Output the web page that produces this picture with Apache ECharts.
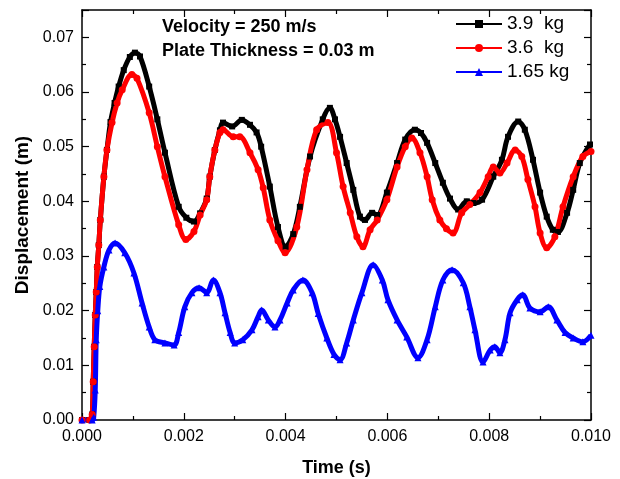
<!DOCTYPE html>
<html>
<head>
<meta charset="utf-8">
<script src="https://cdn.jsdelivr.net/npm/echarts@6/dist/echarts.min.js"></script>
<style>html,body{margin:0;padding:0;background:#fff;}#c{width:620px;height:479px;}</style>
</head>
<body>
<div id="c"></div>
<script>
// Time (s) / displacement (m) pairs
var seriesNames = ['3.9  kg', '3.6  kg', '1.65 kg'];
var xTicks = [0, 0.002, 0.004, 0.006, 0.008, 0.010];
var yTicks = [0, 0.01, 0.02, 0.03, 0.04, 0.05, 0.06, 0.07];

var mass39 = [[0,0],[0.00015,0],[0.0002,0.001],[0.00022,0.007],[0.00024,0.0134],[0.00026,0.0192],[0.00028,0.0234],[0.0003,0.028],[0.00033,0.032],[0.00036,0.0366],[0.00043,0.0445],[0.00049,0.0494],[0.00056,0.0545],[0.00064,0.058],[0.00072,0.061],[0.00082,0.064],[0.00094,0.0664],[0.00104,0.0672],[0.00114,0.0665],[0.00132,0.061],[0.00148,0.055],[0.00163,0.0489],[0.0019,0.039],[0.00205,0.037],[0.0022,0.0363],[0.00232,0.0378],[0.00245,0.0405],[0.00251,0.0445],[0.00261,0.0494],[0.00271,0.053],[0.00277,0.0544],[0.00295,0.0537],[0.00314,0.0549],[0.0033,0.054],[0.00343,0.0526],[0.00352,0.05],[0.00369,0.0427],[0.00385,0.0353],[0.004,0.0317],[0.00415,0.034],[0.00428,0.039],[0.00448,0.0482],[0.00473,0.055],[0.00487,0.0571],[0.00497,0.055],[0.00507,0.0518],[0.0052,0.047],[0.00533,0.0421],[0.00546,0.0372],[0.00556,0.0366],[0.0057,0.0379],[0.0058,0.0375],[0.00599,0.0416],[0.00619,0.047],[0.00635,0.0513],[0.00654,0.0531],[0.00666,0.0525],[0.00678,0.0507],[0.00694,0.047],[0.00709,0.0434],[0.00723,0.0405],[0.00739,0.0385],[0.00756,0.04],[0.00769,0.0397],[0.00786,0.0403],[0.00808,0.0445],[0.00825,0.0476],[0.00837,0.0518],[0.00857,0.0546],[0.0087,0.0531],[0.00886,0.0476],[0.009,0.0416],[0.00913,0.0372],[0.00925,0.0348],[0.00935,0.0344],[0.00953,0.0379],[0.00965,0.0421],[0.00978,0.047],[0.00998,0.0504]];

var mass36 = [[0,0],[0.00015,0],[0.0002,0.001],[0.00022,0.007],[0.00024,0.0134],[0.00026,0.0192],[0.00028,0.0234],[0.0003,0.028],[0.00033,0.032],[0.00036,0.0366],[0.00043,0.0445],[0.00049,0.0494],[0.00059,0.0544],[0.00069,0.058],[0.00079,0.0604],[0.00098,0.0632],[0.00108,0.0625],[0.00132,0.0562],[0.00148,0.05],[0.00163,0.0445],[0.0019,0.0357],[0.00204,0.033],[0.0022,0.0345],[0.00232,0.0375],[0.00245,0.0403],[0.00251,0.0445],[0.00261,0.0494],[0.00271,0.0526],[0.00277,0.0531],[0.00297,0.0518],[0.0031,0.0518],[0.0033,0.0489],[0.00346,0.0458],[0.00356,0.0425],[0.00369,0.0366],[0.00385,0.0328],[0.00399,0.0306],[0.00422,0.0353],[0.00442,0.0458],[0.00461,0.0531],[0.00483,0.0544],[0.005,0.0489],[0.00513,0.0427],[0.00527,0.0379],[0.0054,0.0335],[0.00552,0.0317],[0.00566,0.0348],[0.0058,0.0366],[0.00599,0.0403],[0.00619,0.0463],[0.00635,0.05],[0.00648,0.0516],[0.00664,0.0489],[0.00678,0.0445],[0.00688,0.0403],[0.00703,0.0366],[0.00716,0.035],[0.00729,0.0342],[0.00746,0.0379],[0.00762,0.0394],[0.00782,0.0416],[0.00798,0.0445],[0.00808,0.0463],[0.00821,0.0452],[0.00835,0.047],[0.00851,0.0494],[0.00864,0.0482],[0.00876,0.044],[0.0089,0.039],[0.009,0.0342],[0.00913,0.0315],[0.00929,0.0335],[0.00945,0.039],[0.00965,0.0445],[0.00984,0.0482],[0.01,0.0491]];

var mass165 = [[0,0],[0.0002,0],[0.00023,0.0005],[0.00026,0.0055],[0.00028,0.0147],[0.00031,0.02],[0.00035,0.0244],[0.00043,0.028],[0.00053,0.0311],[0.00065,0.0324],[0.00084,0.0306],[0.00102,0.0269],[0.00118,0.0214],[0.00132,0.017],[0.00143,0.0147],[0.00163,0.0141],[0.00181,0.0137],[0.0019,0.016],[0.00202,0.0207],[0.00216,0.0233],[0.0023,0.0242],[0.00245,0.0233],[0.00258,0.0256],[0.00271,0.0233],[0.00281,0.0196],[0.00291,0.016],[0.003,0.0141],[0.00316,0.0147],[0.00334,0.0165],[0.00346,0.0189],[0.00353,0.0201],[0.00366,0.0183],[0.00379,0.017],[0.00389,0.0183],[0.00403,0.0214],[0.00415,0.0238],[0.00434,0.0256],[0.00452,0.0233],[0.00464,0.0195],[0.00481,0.015],[0.00495,0.012],[0.00507,0.011],[0.0052,0.0141],[0.00533,0.0183],[0.0055,0.0233],[0.00572,0.0284],[0.0059,0.0256],[0.00601,0.022],[0.00619,0.0183],[0.00638,0.0152],[0.0066,0.0114],[0.00678,0.0147],[0.00694,0.0207],[0.00709,0.0256],[0.00727,0.0275],[0.00749,0.0251],[0.00762,0.0207],[0.00772,0.0165],[0.00788,0.0106],[0.00802,0.0128],[0.00811,0.0134],[0.00821,0.0123],[0.00831,0.0147],[0.00841,0.0196],[0.00855,0.022],[0.00866,0.0229],[0.0088,0.0205],[0.009,0.0198],[0.00916,0.0207],[0.00933,0.0183],[0.00949,0.016],[0.00965,0.015],[0.00984,0.0143],[0.01,0.0155]];

var FONT = '"Liberation Sans", Arial, sans-serif';
var chart = echarts.init(document.getElementById('c'), null, {renderer: 'canvas'});

function axisCommon(extra) {
  var base = {
    axisLine: {show: true, onZero: false, lineStyle: {color: '#000', width: 1.5}},
    axisTick: {show: true, inside: true, length: 7, lineStyle: {color: '#000', width: 1.2}},
    minorTick: {show: true, splitNumber: 2, length: 4, lineStyle: {color: '#000', width: 1.2}},
    splitLine: {show: false},
    minorSplitLine: {show: false}
  };
  for (var k in extra) base[k] = extra[k];
  return base;
}

chart.setOption({
  animation: false,
  backgroundColor: '#fff',
  title: {
    text: 'Velocity = 250 m/s\nPlate Thickness = 0.03 m',
    left: 157, top: 10,
    textStyle: {fontFamily: FONT, fontSize: 18, fontWeight: 'bold', color: '#000', lineHeight: 24}
  },
  legend: {
    orient: 'vertical', left: 450, top: 9,
    itemWidth: 46, itemHeight: 10, itemGap: 4,
    textStyle: {fontFamily: FONT, fontSize: 19, color: '#000', lineHeight: 20},
    data: seriesNames
  },
  grid: {left: 82, right: 29, top: 10, bottom: 59, containLabel: false, outerBoundsMode: 'none'},
  xAxis: [
    axisCommon({
      type: 'value', min: xTicks[0], max: xTicks[xTicks.length - 1], interval: xTicks[1] - xTicks[0],
      position: 'bottom',
      name: 'Time (s)', nameLocation: 'middle', nameGap: 39,
      nameTextStyle: {fontFamily: FONT, fontSize: 18, fontWeight: 'bold', color: '#000'},
      axisLabel: {fontFamily: FONT, fontSize: 16, color: '#000', margin: 9,
        formatter: function (v) { return v.toFixed(3); }}
    }),
    axisCommon({
      type: 'value', min: xTicks[0], max: xTicks[xTicks.length - 1], interval: xTicks[1] - xTicks[0],
      position: 'top', axisLabel: {show: false}
    })
  ],
  yAxis: [
    axisCommon({
      type: 'value', min: 0, max: 0.075, interval: yTicks[1] - yTicks[0],
      position: 'left',
      name: 'Displacement (m)', nameLocation: 'middle', nameGap: 50,
      nameTextStyle: {fontFamily: FONT, fontSize: 19, fontWeight: 'bold', color: '#000'},
      axisLabel: {fontFamily: FONT, fontSize: 16, color: '#000', margin: 8,
        formatter: function (v) {
          var r = Math.round(v * 100);
          return Math.abs(v * 100 - r) < 1e-6 ? v.toFixed(2) : '';
        }}
    }),
    axisCommon({
      type: 'value', min: 0, max: 0.075, interval: yTicks[1] - yTicks[0],
      position: 'right', axisLabel: {show: false}
    })
  ],
  series: [
    {name: seriesNames[0], type: 'line', data: mass39, smooth: 0.35,
     symbol: 'rect', symbolSize: 6, showAllSymbol: true,
     lineStyle: {color: '#000', width: 5}, itemStyle: {color: '#000'}},
    {name: seriesNames[1], type: 'line', data: mass36, smooth: 0.35,
     symbol: 'circle', symbolSize: 7, showAllSymbol: true,
     lineStyle: {color: '#ff0000', width: 5}, itemStyle: {color: '#ff0000'}},
    {name: seriesNames[2], type: 'line', data: mass165, smooth: 0.35,
     symbol: 'triangle', symbolSize: 7, showAllSymbol: true,
     lineStyle: {color: '#0000ff', width: 5}, itemStyle: {color: '#0000ff'}}
  ]
});
</script>
</body>
</html>
